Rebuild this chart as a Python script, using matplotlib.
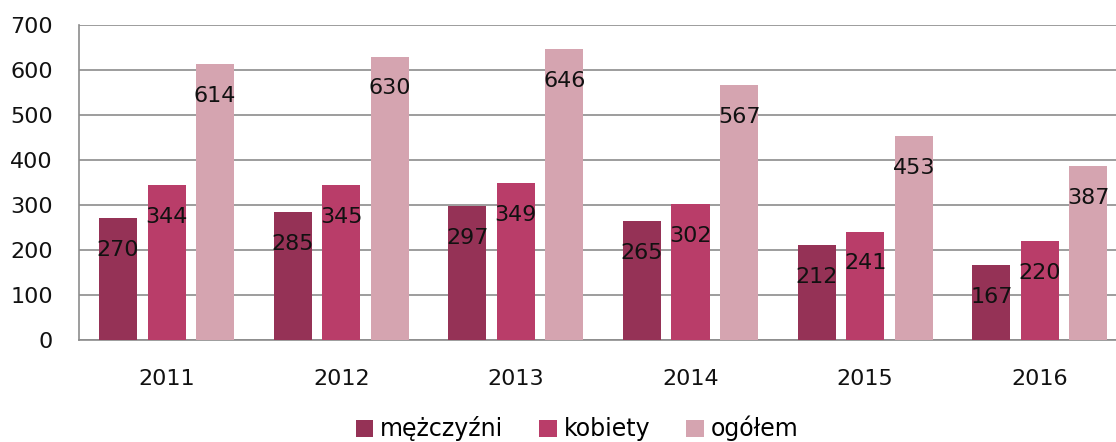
import matplotlib
matplotlib.use('Agg')
from matplotlib import pyplot as plt
import numpy as np

years = ['2011', '2012', '2013', '2014', '2015', '2016']
men = [270, 285, 297, 265, 212, 167]
women = [344, 345, 349, 302, 241, 220]
total = [614, 630, 646, 567, 453, 387]
series_names = ['mężczyźni', 'kobiety', 'ogółem']
colors = ['#953256', '#B93D69', '#D5A4B0']

plt.rcParams['font.family'] = ['DejaVu Sans']
plt.rcParams['font.size'] = 16

fig = plt.figure(figsize=(11.16, 4.42), dpi=100)
ax = fig.add_axes([0.071, 0.2308, 0.939, 0.7126])

x = np.arange(len(years))
width = 0.218
step = 0.278
for i, (vals, name, c) in enumerate(zip([men, women, total], series_names, colors)):
    bars = ax.bar(x + (i - 1) * step, vals, width, color=c, label=name, zorder=3)
    for b, v in zip(bars, vals):
        ax.annotate(str(v), (b.get_x() + b.get_width() / 2, v),
                    xytext=(0, -23), textcoords='offset points',
                    ha='center', va='center', fontsize=16, color='#111111', zorder=4)

ax.set_xlim(-0.5, len(years) - 0.5)
ax.set_ylim(0, 700)
ax.set_yticks(range(0, 701, 100))
ax.set_xticks(x)
ax.set_xticklabels(years)
ax.grid(axis='y', color='#8c8c8c', linewidth=1.2, zorder=0)
ax.tick_params(length=0, labelsize=16, colors='#111111')
ax.tick_params(axis='y', pad=19)
ax.tick_params(axis='x', pad=21)
for s in ['top', 'right']:
    ax.spines[s].set_visible(False)
for s in ['left', 'bottom']:
    ax.spines[s].set_color('#8c8c8c')
    ax.spines[s].set_linewidth(1.2)

fig.legend(loc='center', bbox_to_anchor=(0.517, 0.03), ncol=3, frameon=False,
           fontsize=17, handlelength=0.75, handleheight=0.75, handletextpad=0.3,
           columnspacing=1.5)

plt.savefig('out.png', dpi=100)
